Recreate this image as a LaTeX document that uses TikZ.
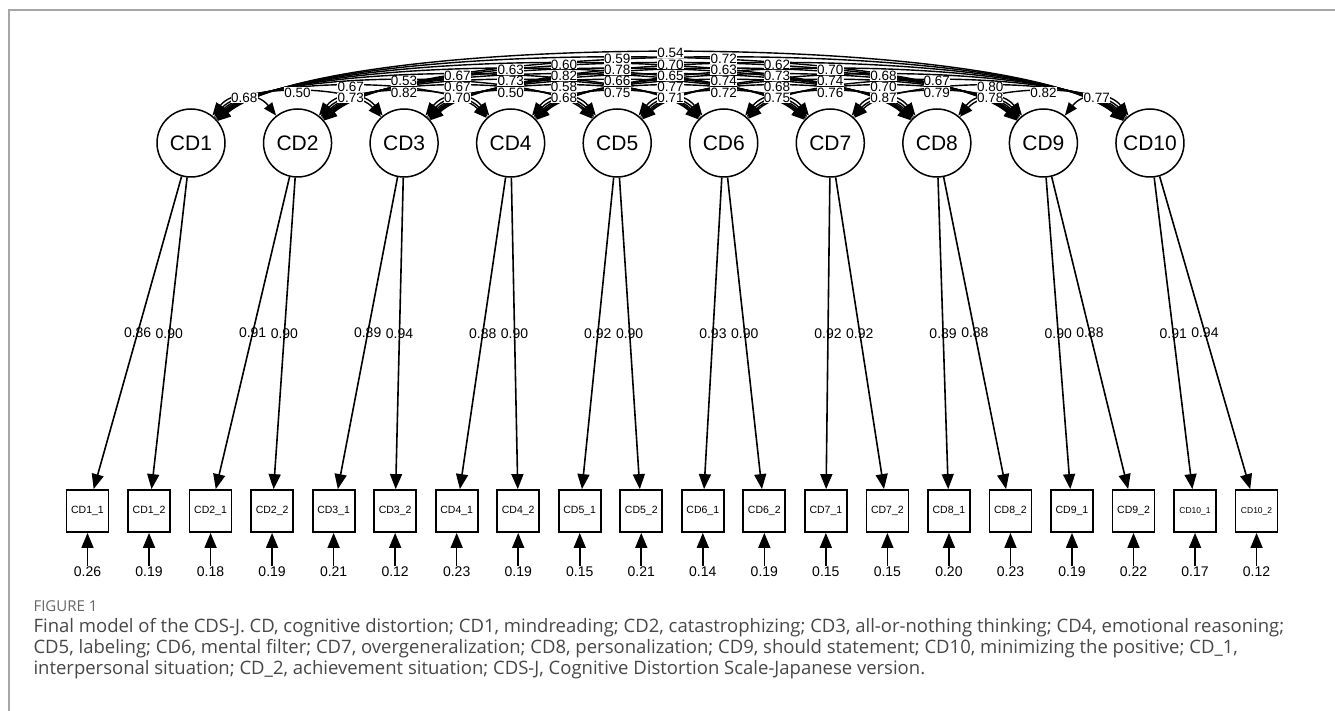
\documentclass[tikz,border=0pt]{standalone}
\usepackage{fontspec}
\setmainfont{Liberation Sans}
\newfontfamily\capfont{Open Sans}
\usetikzlibrary{arrows.meta}

% factor correlations: from/to/value
\newcommand\corrdata{1/2/0.68, 2/3/0.73, 3/4/0.70, 4/5/0.68, 5/6/0.71, 6/7/0.75, 7/8/0.87, 8/9/0.78, 9/10/0.77,
  1/3/0.50, 2/4/0.82, 3/5/0.50, 4/6/0.75, 5/7/0.72, 6/8/0.76, 7/9/0.79, 8/10/0.82,
  1/4/0.67, 2/5/0.67, 3/6/0.58, 4/7/0.77, 5/8/0.68, 6/9/0.70, 7/10/0.80,
  1/5/0.53, 2/6/0.73, 3/7/0.66, 4/8/0.74, 5/9/0.74, 6/10/0.67,
  1/6/0.67, 2/7/0.82, 3/8/0.65, 4/9/0.73, 5/10/0.68,
  1/7/0.63, 2/8/0.78, 3/9/0.63, 4/10/0.70,
  1/8/0.60, 2/9/0.70, 3/10/0.62,
  1/9/0.59, 2/10/0.72,
  1/10/0.54}

\begin{document}
\begin{tikzpicture}[x=1pt, y=-1pt,
  latent/.style={circle, draw=black, line width=1.5pt, minimum size=68pt, inner sep=0pt, font=\fontsize{21}{24}\selectfont},
  item/.style={rectangle, draw=black, line width=1.8pt, minimum size=42pt, inner sep=0pt, font=\fontsize{10.5}{12}\selectfont},
  num/.style={font=\fontsize{14}{16}\selectfont, inner sep=1pt},
  load/.style={-{Triangle[length=15pt, width=12pt]}, line width=1.6pt},
  corr/.style={{Triangle[length=13pt, width=10pt]}-{Triangle[length=13pt, width=10pt]}, line width=1.4pt},
  corrlabel/.style={font=\fontsize{13.5}{15}\selectfont, fill=white, inner sep=0.2pt}]
  \useasboundingbox (0,0) rectangle (1335,711);

  % Frame
  \draw[gray!70, line width=1.5pt] (1335,10) -- (9,10) -- (9,711);

  % Latent factors
  \foreach \i in {1,...,10}
    \node[latent] (cd\i) at ({191+106.55*(\i-1)},143) {CD\i};

  % Items, loadings and residuals
  \foreach \i/\k/\l/\e in {1/1/0.86/0.26, 1/2/0.90/0.19, 2/1/0.91/0.18, 2/2/0.90/0.19,
      3/1/0.89/0.21, 3/2/0.94/0.12, 4/1/0.88/0.23, 4/2/0.90/0.19, 5/1/0.92/0.15, 5/2/0.90/0.21,
      6/1/0.93/0.14, 6/2/0.90/0.19, 7/1/0.92/0.15, 7/2/0.92/0.15, 8/1/0.89/0.20, 8/2/0.88/0.23,
      9/1/0.90/0.19, 9/2/0.88/0.22, 10/1/0.91/0.17, 10/2/0.94/0.12} {
    \node[item] (ind\i\k) at ({87.5+61.53*(2*\i+\k-3)},511)
      {\ifnum\i=10 \fontsize{8.5}{10}\selectfont\fi CD\i\_\k};
    \node[num] (e\i\k) at ({87.5+61.53*(2*\i+\k-3)},572) {\e};
    \draw[load] (cd\i) -- node {\fontsize{14}{16}\selectfont\l} (ind\i\k);
    \draw[load] (e\i\k) -- (ind\i\k);
  }

  % Correlations
  \foreach \i/\j/\v in \corrdata {
    \pgfmathsetmacro\d{\j-\i}
    \pgfmathsetmacro\a{28+12*\d}
    \pgfmathsetmacro\h{43.5+7.66*\d}
    \draw[corr] (cd\i) .. controls +(\a,-\h) and +(-\a,-\h) .. (cd\j) coordinate[pos=0.5] (r\i-\j);
  }
  \foreach \i/\j/\v in \corrdata
    \node[corrlabel] at (r\i-\j) {\v};

  % Caption
  \node[anchor=base west, text=black!60, font=\capfont\fontsize{15}{17}\selectfont] (fig) at (30,611) {FIGURE 1};
  \node[anchor=base west, text=black!72, font=\capfont\fontsize{18.5}{21}\selectfont] (cap1) at (30,632)
    {Final model of the CDS-J. CD, cognitive distortion; CD1, mindreading; CD2, catastrophizing; CD3, all-or-nothing thinking; CD4, emotional reasoning;};
  \node[anchor=base west, text=black!72, font=\capfont\fontsize{18.5}{21}\selectfont] (cap2) at (30,653)
    {CD5, labeling; CD6, mental filter; CD7, overgeneralization; CD8, personalization; CD9, should statement; CD10, minimizing the positive; CD\_1,};
  \node[anchor=base west, text=black!72, font=\capfont\fontsize{18.5}{21}\selectfont] (cap3) at (30,674)
    {interpersonal situation; CD\_2, achievement situation; CDS-J, Cognitive Distortion Scale-Japanese version.};
\end{tikzpicture}
\end{document}
